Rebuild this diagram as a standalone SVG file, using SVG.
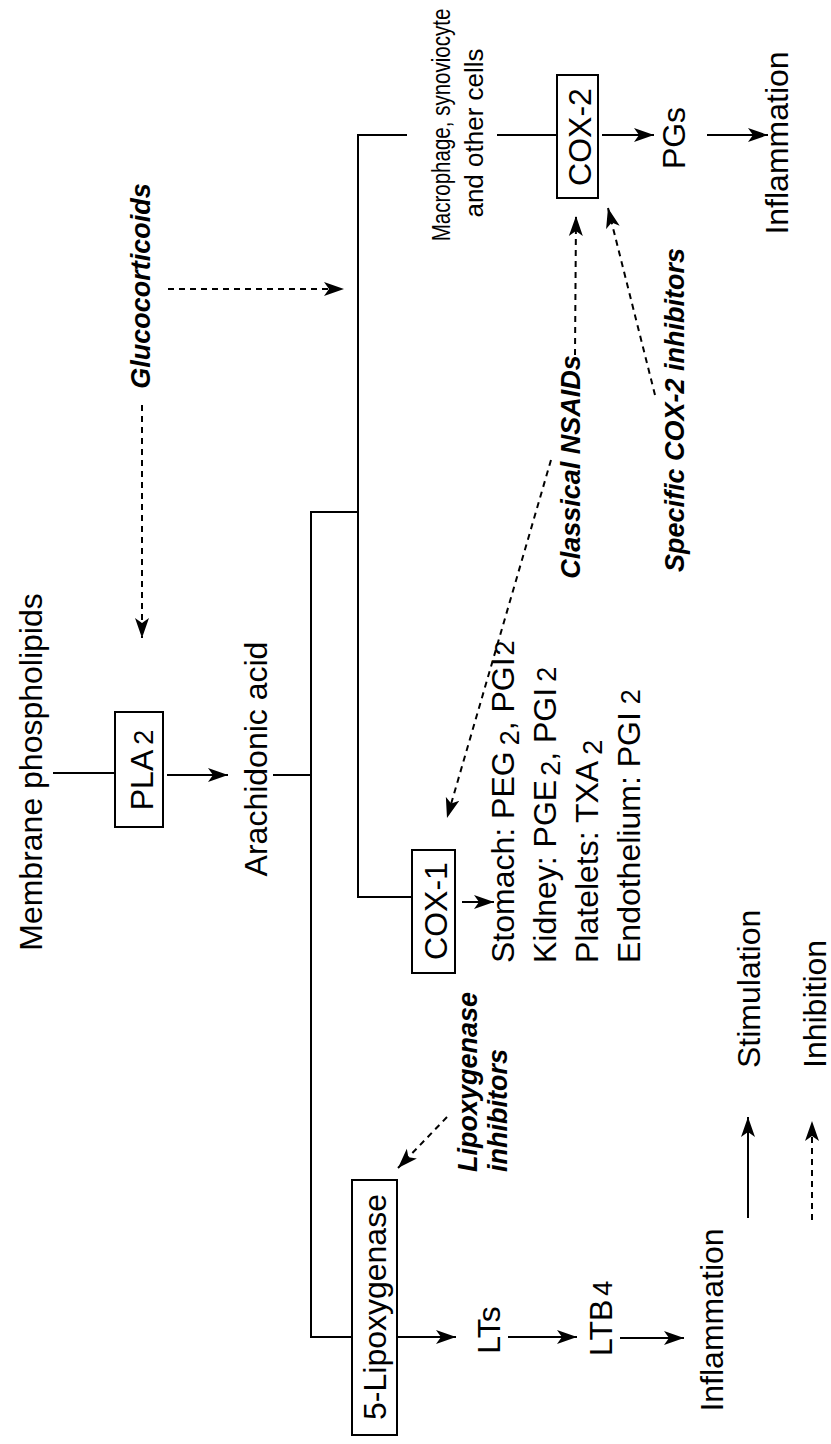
<svg xmlns="http://www.w3.org/2000/svg" width="831" height="1444" viewBox="0 0 831 1444">
<style>
text{font-family:"Liberation Sans",Arial,sans-serif;fill:#000}
.t{font-size:32px}
.s{font-size:26px}
.d{font-size:27px;font-weight:bold;font-style:italic}
.box{fill:#fff;stroke:#000;stroke-width:2}
.c line{stroke:#000;stroke-width:2;fill:none}
.c line.dash{stroke-dasharray:6 5}
</style>
<defs>
<marker id="ah" markerUnits="userSpaceOnUse" markerWidth="22" markerHeight="16" refX="20" refY="8" orient="auto">
<path d="M0,1 L20,8 L0,15 L5,8 z" fill="#000"/>
</marker>
</defs>
<rect width="831" height="1444" fill="#fff"/>
<g class="c" id="connectors">
<line x1="53" y1="773" x2="115" y2="773"/>
<line x1="167" y1="775" x2="228" y2="775" marker-end="url(#ah)"/>
<line x1="273" y1="775" x2="311" y2="775"/>
<line x1="311" y1="511" x2="311" y2="1338"/>
<line x1="310" y1="512" x2="359" y2="512"/>
<line x1="358" y1="134" x2="358" y2="898"/>
<line x1="357" y1="135" x2="407" y2="135"/>
<line x1="357" y1="897" x2="412" y2="897"/>
<line x1="497" y1="135" x2="557" y2="135"/>
<line x1="310" y1="1337" x2="352" y2="1337"/>
<line x1="397" y1="1337" x2="456" y2="1337" marker-end="url(#ah)"/>
<line x1="508" y1="1337" x2="577" y2="1337" marker-end="url(#ah)"/>
<line x1="620" y1="1338" x2="684" y2="1338" marker-end="url(#ah)"/>
<line x1="462" y1="902" x2="494" y2="902" marker-end="url(#ah)"/>
<line x1="602" y1="135" x2="654" y2="135" marker-end="url(#ah)"/>
<line x1="707" y1="135" x2="768" y2="135" marker-end="url(#ah)"/>
<line class="dash" x1="142" y1="405" x2="142" y2="638" marker-end="url(#ah)"/>
<line class="dash" x1="168" y1="289" x2="344" y2="289" marker-end="url(#ah)"/>
<line class="dash" x1="575" y1="355" x2="576" y2="216" marker-end="url(#ah)"/>
<line class="dash" x1="551" y1="460" x2="447" y2="818" marker-end="url(#ah)"/>
<line class="dash" x1="655" y1="395" x2="608" y2="208" marker-end="url(#ah)"/>
<line class="dash" x1="447" y1="1117" x2="398" y2="1168" marker-end="url(#ah)"/>
<line x1="748" y1="1218" x2="748" y2="1117" marker-end="url(#ah)"/>
<line class="dash" x1="812" y1="1220" x2="812" y2="1121" marker-end="url(#ah)"/>
</g>
<g id="membrane"><text class="t" transform="translate(42,772) rotate(-90)" text-anchor="middle" font-size="33">Membrane phospholipids</text></g>
<g id="pla2"><rect class="box" x="115" y="712" width="48" height="115"/><text class="t" transform="translate(153,770) rotate(-90)" text-anchor="middle" font-size="33">PLA<tspan font-size="27" dx="5">2</tspan></text></g>
<g id="arachidonic"><text class="t" transform="translate(267,759) rotate(-90)" text-anchor="middle">Arachidonic acid</text></g>
<g id="glucocorticoids"><text class="d" transform="translate(150,286) rotate(-90)" text-anchor="middle">Glucocorticoids</text></g>
<g id="macrophage"><text class="s" transform="translate(450,125) rotate(-90) scale(0.79,1)" text-anchor="middle">Macrophage, synoviocyte</text><text class="s" transform="translate(483,133) rotate(-90)" text-anchor="middle">and other cells</text></g>
<g id="cox2"><rect class="box" x="557" y="75" width="41" height="123"/><text class="t" transform="translate(591,137) rotate(-90)" text-anchor="middle" font-size="31">COX-2</text></g>
<g id="pgs"><text class="t" transform="translate(685,138) rotate(-90)" text-anchor="middle" font-size="30">PGs</text></g>
<g id="inflammation-top"><text class="t" transform="translate(788,143) rotate(-90)" text-anchor="middle" font-size="30">Inflammation</text></g>
<g id="cox1"><rect class="box" x="412" y="850" width="43" height="123"/><text class="t" transform="translate(447,911) rotate(-90)" text-anchor="middle" font-size="31">COX-1</text></g>
<g id="cox1-products">
<text class="t" transform="translate(514,963) rotate(-90)">Stomach: PEG<tspan font-size="27" dx="6" dy="5">2</tspan><tspan dy="-5">, PGI</tspan><tspan font-size="27" dx="2">2</tspan></text>
<text class="t" transform="translate(556,963) rotate(-90)">Kidney: PGE<tspan font-size="27" dx="4" dy="4">2</tspan><tspan dy="-4">, PGI</tspan><tspan font-size="27" dx="6">2</tspan></text>
<text class="t" transform="translate(598,963) rotate(-90)">Platelets: TXA<tspan font-size="27" dx="6" dy="4">2</tspan></text>
<text class="t" transform="translate(640,963) rotate(-90)">Endothelium: PGI<tspan font-size="27" dx="8">2</tspan></text>
</g>
<g id="classical-nsaids"><text class="d" transform="translate(580,467) rotate(-90)" text-anchor="middle">Classical NSAIDs</text></g>
<g id="specific-cox2"><text class="d" transform="translate(684,410) rotate(-90)" text-anchor="middle">Specific COX-2 inhibitors</text></g>
<g id="lipox-inhibitors"><text class="d" transform="translate(477,1172) rotate(-90)">Lipoxygenase</text><text class="d" transform="translate(507,1172) rotate(-90)">inhibitors</text></g>
<g id="lipoxygenase"><rect class="box" x="352" y="1180" width="45" height="255"/><text class="t" transform="translate(386,1307) rotate(-90)" text-anchor="middle" font-size="33">5-Lipoxygenase</text></g>
<g id="lts"><text class="t" transform="translate(500,1330) rotate(-90)" text-anchor="middle">LTs</text></g>
<g id="ltb4"><text class="t" transform="translate(612,1356) rotate(-90)">LTB<tspan font-size="27" dx="4">4</tspan></text></g>
<g id="inflammation-bottom"><text class="t" transform="translate(723,1320) rotate(-90)" text-anchor="middle">Inflammation</text></g>
<g id="legend"><text class="t" transform="translate(760,1068) rotate(-90)">Stimulation</text><text class="t" transform="translate(826,1068) rotate(-90)">Inhibition</text></g>
</svg>
